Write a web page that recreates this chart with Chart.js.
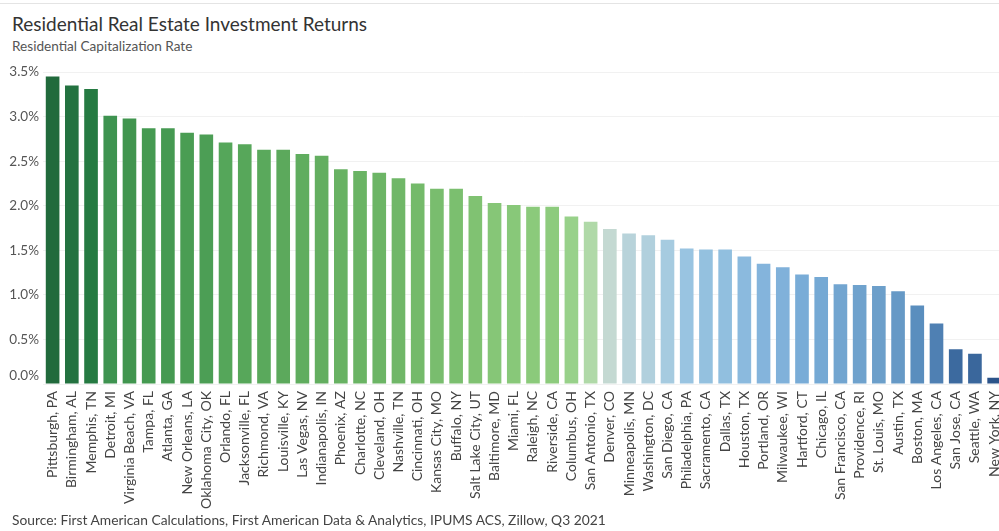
<!DOCTYPE html>
<html>
<head>
<meta charset="utf-8">
<script src="https://cdn.jsdelivr.net/npm/chart.js@4.4.0/dist/chart.umd.min.js"></script>
<style>
  html, body { margin: 0; padding: 0; background: #fff; overflow: hidden; width: 999px; height: 531px; }
  body { position: relative; font-family: Lato, "Open Sans", sans-serif; }
  .rule { position: absolute; left: 0; top: 3px; width: 999px; height: 1px; background: #e4e4e4; }
  .title { position: absolute; left: 12px; top: 12px; font-size: 19px; color: #333; }
  .subtitle { position: absolute; left: 12px; top: 38px; font-size: 13.6px; color: #555; }
  .source { position: absolute; left: 12px; top: 511px; font-size: 13.8px; color: #444; }
  #wrap { position: absolute; left: 0; top: 60px; width: 1010px; height: 455px; }
</style>
</head>
<body>
<div class="rule"></div>
<div class="title">Residential Real Estate Investment Returns</div>
<div class="subtitle">Residential Capitalization Rate</div>
<div id="wrap"><canvas id="chart"></canvas></div>
<div class="source">Source: First American Calculations, First American Data &amp; Analytics, IPUMS ACS, Zillow, Q3 2021</div>
<script>
const cities = [
  'Pittsburgh, PA', 'Birmingham, AL', 'Memphis, TN', 'Detroit, MI', 'Virginia Beach, VA',
  'Tampa, FL', 'Atlanta, GA', 'New Orleans, LA', 'Oklahoma City, OK', 'Orlando, FL',
  'Jacksonville, FL', 'Richmond, VA', 'Louisville, KY', 'Las Vegas, NV', 'Indianapolis, IN',
  'Phoenix, AZ', 'Charlotte, NC', 'Cleveland, OH', 'Nashville, TN', 'Cincinnati, OH',
  'Kansas City, MO', 'Buffalo, NY', 'Salt Lake City, UT', 'Baltimore, MD', 'Miami, FL',
  'Raleigh, NC', 'Riverside, CA', 'Columbus, OH', 'San Antonio, TX', 'Denver, CO',
  'Minneapolis, MN', 'Washington, DC', 'San Diego, CA', 'Philadelphia, PA', 'Sacramento, CA',
  'Dallas, TX', 'Houston, TX', 'Portland, OR', 'Milwaukee, WI', 'Hartford, CT',
  'Chicago, IL', 'San Francisco, CA', 'Providence, RI', 'St. Louis, MO', 'Austin, TX',
  'Boston, MA', 'Los Angeles, CA', 'San Jose, CA', 'Seattle, WA', 'New York, NY'
];

// cap rate, percent
const capRate = [
  3.45, 3.35, 3.31, 3.01, 2.98, 2.87, 2.87, 2.82, 2.80, 2.71,
  2.69, 2.63, 2.63, 2.58, 2.56, 2.41, 2.39, 2.37, 2.31, 2.25,
  2.19, 2.19, 2.11, 2.03, 2.01, 1.99, 1.99, 1.88, 1.82, 1.74,
  1.69, 1.67, 1.62, 1.52, 1.51, 1.51, 1.43, 1.35, 1.31, 1.23,
  1.20, 1.12, 1.11, 1.10, 1.04, 0.88, 0.68, 0.39, 0.34, 0.07
];

const yTicks = [0, 0.5, 1, 1.5, 2, 2.5, 3, 3.5];

const barColors = [
  '#216a3c', '#237240', '#257a42', '#3e9350', '#41954f', '#459a51', '#469a52', '#4a9d53', '#4c9e55', '#55a65a',
  '#57a75a', '#5aa95c', '#5ca95c', '#60ad5f', '#63ae60', '#68b263', '#6ab464', '#6cb565', '#70b768', '#74ba6a',
  '#79bd6e', '#7bbf6f', '#80c272', '#86c677', '#88c879', '#8bca7b', '#8dcb7d', '#98d18a', '#b0d9a8', '#c4d9d2',
  '#b8d3da', '#b1d0dd', '#a6cbe0', '#99c4e1', '#94c1df', '#91bfdf', '#8bbade', '#84b4dc', '#80b1da', '#79acd7',
  '#75a9d4', '#72a5d0', '#6fa2cd', '#6c9fca', '#6699c6', '#5a8ebe', '#4f80b3', '#3c6a9f', '#3a679c', '#2c548a'
];

const FONT = 'Lato, "Open Sans", sans-serif';

// the 0.0% label sits a little above its gridline
const zeroLabel = {
  id: 'zeroLabel',
  afterDraw(chart) {
    const y = chart.scales.y;
    const ctx = chart.ctx;
    ctx.save();
    ctx.font = '13.5px ' + FONT;
    ctx.fillStyle = '#555';
    ctx.textAlign = 'right';
    ctx.textBaseline = 'middle';
    ctx.fillText('0.0%', y.right - 4, y.getPixelForValue(0) - 8);
    ctx.restore();
  }
};

new Chart(document.getElementById('chart'), {
  type: 'bar',
  data: {
    labels: cities,
    datasets: [{
      data: capRate,
      backgroundColor: barColors,
      borderWidth: 0,
      categoryPercentage: 1,
      barPercentage: 0.71
    }]
  },
  options: {
    responsive: true,
    maintainAspectRatio: false,
    animation: false,
    layout: { padding: { top: 6, right: 6, left: 0, bottom: 0 } },
    plugins: { legend: { display: false }, tooltip: { enabled: false } },
    scales: {
      x: {
        grid: { display: false },
        border: { display: false },
        ticks: {
          autoSkip: false,
          minRotation: 90,
          maxRotation: 90,
          padding: -1,
          color: '#444',
          font: { family: FONT, size: 14 }
        },
        afterFit(scale) { scale.height = 131; }
      },
      y: {
        min: 0,
        max: 3.5,
        afterBuildTicks(scale) { scale.ticks = yTicks.map(v => ({ value: v })); },
        grid: { color: '#f1f1f1', drawTicks: false },
        border: { display: false },
        ticks: {
          padding: 4,
          color: '#555',
          font: { family: FONT, size: 13.5 },
          callback: v => v === 0 ? '' : v.toFixed(1) + '%'
        },
        afterFit(scale) { scale.width = 43; }
      }
    }
  },
  plugins: [zeroLabel]
});
</script>
</body>
</html>
